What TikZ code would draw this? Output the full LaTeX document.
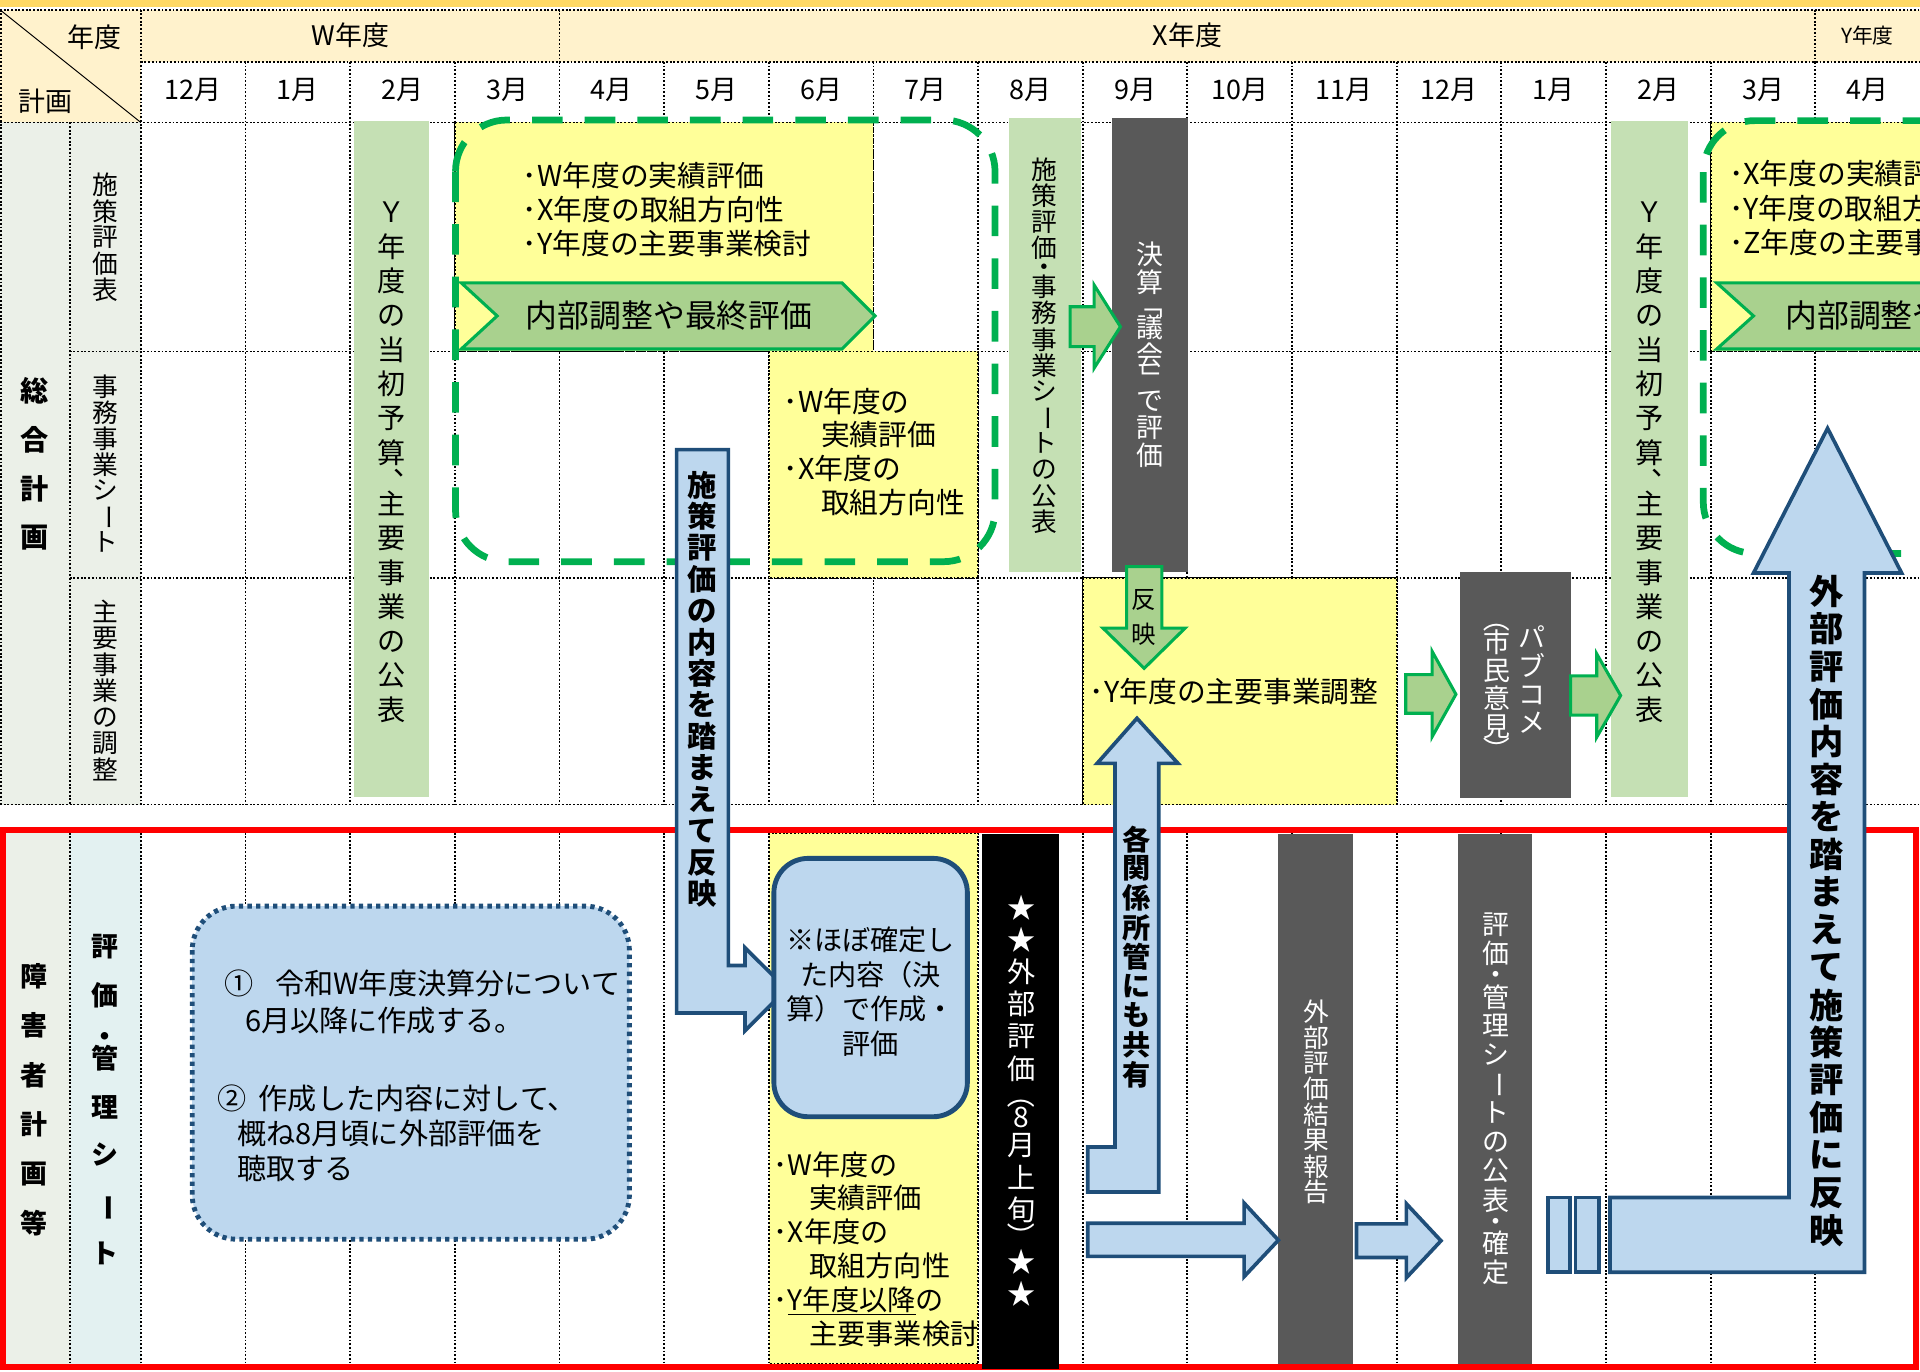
\documentclass[tikz,border=0pt]{standalone}
\usepackage{fontspec}
\usepackage{graphicx}
\setmainfont{Noto Sans CJK JP}
\definecolor{cGreen}{HTML}{00B050}
\definecolor{cBar}{HTML}{C5E0B4}
\definecolor{cChev}{HTML}{A9D18E}
\definecolor{cYel}{HTML}{FFFF99}
\definecolor{cGrey}{HTML}{595959}
\definecolor{cBlue}{HTML}{BDD7EE}
\definecolor{cNavy}{HTML}{1F4E79}
\definecolor{cHdr}{HTML}{FFF2CC}
\definecolor{cOrange}{HTML}{FFD966}
\definecolor{cColA}{HTML}{EBF0E8}
\definecolor{cColB}{HTML}{E3F1F1}
\definecolor{cRed}{HTML}{FF0000}
\makeatletter
\newlength\vtskip
\gdef\vt@fac{1}
\newcommand\vtext[2]{\vtskip=#1\relax\vbox{\offinterlineskip\@tfor\vt@c:=#2\do{\vt@item{\vt@c}}}}
\def\vt@item#1{\gdef\vt@fac{1}\setbox\z@\hbox to 1em{\hss\vphantom{国}#1\hss}\vbox to \vt@fac\vtskip{\vss\box\z@\vss}}
\newcommand\vh[1]{\gdef\vt@fac{0.5}#1}
\newcommand\vrot[2][1]{\gdef\vt@fac{#1}\rotatebox[origin=c]{-90}{#2}}
\newcommand\vcm{\gdef\vt@fac{0.5}\makebox[1em][l]{\kern0.55em\raisebox{0.45em}{\makebox[0pt][l]{、}}}}
\newcommand\vfac[2]{\gdef\vt@fac{#1}#2}
\newcommand\vch[1]{\hbox to 1em{\hss\vphantom{国}#1\hss}}
\newcommand\fsize[2]{\fontsize{#1}{#2}\selectfont}
\makeatother
\tikzset{
  grid/.style={line width=1.5pt,dash pattern=on 1.5pt off 1.5pt,draw=black},
  lbl/.style={inner sep=0pt,outer sep=0pt},
  ybox/.style={grid,fill=cYel},
  gbar/.style={fill=cBar},
  dbar/.style={fill=cGrey},
  gdash/.style={draw=cGreen,line width=5.5pt,dash pattern=on 25pt off 18pt,rounded corners=42pt},
  chev/.style={fill=cChev,draw=cGreen,line width=2.5pt,line join=miter},
  barrow/.style={fill=cBlue,draw=cNavy,line width=3pt,line join=miter},
  wtxt/.style={lbl,text=white},
  htxt/.style={lbl,align=left,anchor=west}
}
\begin{document}
\begin{tikzpicture}[x=1pt,y=-1pt]
\useasboundingbox (0,0) rectangle (1568,1119.7);
\clip (0,0) rectangle (1568,1119.7);

% ---------- backgrounds
\fill[cOrange] (0,0) rectangle (1568,5.5);
\fill[cHdr] (0,8) rectangle (1568,50.5);
\fill[cHdr] (0,50.5) rectangle (115,100);
\fill[cColA] (0,100) rectangle (115,657);
\fill[cColA] (0,680) rectangle (57,1114);
\fill[cColB] (57,680) rectangle (115,1114);

% ---------- grid
\draw[grid] (0,8) -- (1568,8);
\draw[grid] (115,50.5) -- (1568,50.5);
\draw[grid] (0,100) -- (1568,100);
\draw[grid] (57,287) -- (1568,287);
\draw[grid] (57,472) -- (1568,472);
\draw[grid] (0,657) -- (1568,657);
\draw[grid] (0.8,8) -- (0.8,657);
\draw[grid] (57,100) -- (57,657);
\draw[grid] (115,8) -- (115,657);
\foreach \k in {1,...,16} \draw[grid] ({115+85.47*\k},50.5) -- ({115+85.47*\k},657);
\draw[grid] (456.9,8) -- (456.9,50.5);
\draw[grid] (1482.5,8) -- (1482.5,50.5);
\draw[grid] (57,680) -- (57,1114);
\draw[grid] (115,680) -- (115,1114);
\foreach \k in {1,...,16} \draw[grid] ({115+85.47*\k},680) -- ({115+85.47*\k},1114);
\draw[line width=0.8pt] (0,8) -- (115,100);

% ---------- header texts
\node[lbl,font=\fsize{22}{22}] (hNendo) at (77,30) {年度};
\node[lbl,font=\fsize{22}{22}] (hKeikaku) at (37,83) {計画};
\node[lbl,font=\fsize{22}{22}] (yW) at (286,29) {W年度};
\node[lbl,font=\fsize{22}{22}] (yX) at (969.7,29) {X年度};
\node[lbl,font=\fsize{17}{17}] (yY) at (1525,29) {Y年度};
\foreach \m [count=\i from 0] in {12月,1月,2月,3月,4月,5月,6月,7月,8月,9月,10月,11月,12月,1月,2月,3月,4月}
  \node[lbl,font=\fsize{22}{22}] (m\i) at ({115+85.47*(\i+0.5)},73.5) {\m};

% ---------- row labels
\node[lbl,font=\fsize{23}{23}\bfseries] (sogo) at (28.6,379) {\vtext{40pt}{総合計画}};
\node[lbl,font=\fsize{21}{21}] (r1) at (85.7,194) {\vtext{21.5pt}{施策評価表}};
\node[lbl,font=\fsize{21}{21}] (r2) at (85.7,379.5) {\vtext{21.2pt}{事務事業シ{\vrot{ー}}ト}};
\node[lbl,font=\fsize{21}{21}] (r3) at (85.7,564) {\vtext{21.5pt}{主要事業の調整}};
\node[lbl,font=\fsize{22}{22}\bfseries] (shogai) at (27.4,898) {\vtext{40.4pt}{障害者計画等}};
\begin{scope}[every node/.style={lbl,font=\fsize{22}{22}\bfseries}]
\node (e1) at (85.7,773) {\vch{評}};
\node (e2) at (85.7,813) {\vch{価}};
\node (e3) at (85.7,847) {\vch{・}};
\node (e4) at (85.7,864) {\vch{管}};
\node (e5) at (85.7,905) {\vch{理}};
\node (e6) at (85.7,943) {\vch{シ}};
\node (e7) at (85.7,986) {\vch{\rotatebox[origin=c]{-90}{ー}}};
\node (e8) at (85.7,1024) {\vch{ト}};
\end{scope}

% ---------- yellow areas
\path[ybox] (371.4,100) rectangle (713.3,287);
\path[ybox] (627.8,287) rectangle (798.8,472);
\path[ybox] (884.2,472) rectangle (1140.6,657);
\path[ybox] (627.8,680) rectangle (798.8,1114);
\path[ybox] (1397.1,100) rectangle (1575,287);

% ---------- bars (top)
\path[gbar] (289,98.5) rectangle (350.4,651);
\path[gbar] (823.8,96.5) rectangle (882.5,466.9);
\path[dbar] (908,96.5) rectangle (970,467);
\path[gbar] (1316,98.5) rectangle (1378.5,651);
\path[dbar] (1192.3,467) rectangle (1282.6,652);
% bars (bottom)
\path[dbar] (1044,681) rectangle (1105,1114);
\path[dbar] (1190.7,681) rectangle (1251.5,1114);

% ---------- dashed frames and chevrons
\draw[gdash] (372,98) rectangle (812.6,458.7);
\draw[gdash] (1391,98.5) rectangle (1760,452);
\draw[chev] (376.7,231) -- (687.6,231) -- (714.6,258) -- (687.6,285) -- (376.7,285) -- (406,258) -- cycle;
\draw[chev] (1402,231) -- (1600,231) -- (1600,285) -- (1402,285) -- (1432,258) -- cycle;

% ---------- green arrows
\draw[chev] (874,250.5) -- (893.5,250.5) -- (893.5,232.7) -- (915,266.8) -- (893.5,300.7) -- (893.5,283) -- (874,283) -- cycle;
\draw[chev] (920,462.8) -- (948.8,462.8) -- (948.8,513) -- (967.8,513) -- (934.4,545.8) -- (900.8,513) -- (920,513) -- cycle;
\draw[chev] (1148,551) -- (1169.6,551) -- (1169.6,532) -- (1189,567) -- (1169.6,601.6) -- (1169.6,582.5) -- (1148,582.5) -- cycle;
\draw[chev] (1282.6,552) -- (1304,552) -- (1304,534) -- (1323.5,568) -- (1304,602) -- (1304,584) -- (1282.6,584) -- cycle;

% ---------- red frame
\draw[cRed,line width=5pt] (2.5,678) rectangle (1565,1116.5);
\path[fill=black] (802,681) rectangle (865,1118);

% ---------- blue block arrows
\draw[barrow] (552.6,367.2) -- (594.8,367.2) -- (594.8,788.5) -- (608.4,788.5) -- (608.4,774) -- (642.4,807.7) -- (608.4,841.7) -- (608.4,827.2) -- (552.6,827.2) -- cycle;
\draw[barrow] (946.3,623.4) -- (962,623.4) -- (928.5,586.6) -- (896,623.4) -- (910.5,623.4) -- (910.5,936.7) -- (888.3,936.7) -- (888.3,973.5) -- (946.3,973.5) -- cycle;
\draw[barrow] (888.3,999) -- (1016,999) -- (1016,982.5) -- (1044,1012.8) -- (1016,1042.6) -- (1016,1026) -- (888.3,1026) -- cycle;
\draw[barrow] (1107.8,999.5) -- (1148.5,999.5) -- (1148.5,983) -- (1176.8,1013.3) -- (1148.5,1043.5) -- (1148.5,1027) -- (1107.8,1027) -- cycle;
\draw[barrow] (1264,978) rectangle (1282,1039);
\draw[barrow] (1286.7,978) rectangle (1306,1039);
\draw[barrow] (1314.8,978) -- (1461,978) -- (1461,468) -- (1432,468) -- (1492.5,349.8) -- (1553,468) -- (1522.6,468) -- (1522.6,1039) -- (1314.8,1039) -- cycle;

% ---------- boxes
\draw[fill=cBlue,draw=cNavy,line width=4pt,rounded corners=28pt] (632,701) rectangle (790,912);
\draw[fill=cBlue,draw=cNavy,line width=4pt,dash pattern=on 3.5pt off 3.5pt,rounded corners=36pt] (157,740) rectangle (514,1012);

% ---------- vertical texts in bars and arrows
\node[lbl,font=\fsize{23}{23}] (bud1) at (320,376.5) {\vtext{28pt}{Ｙ年度の当初予算{\vcm}主要事業の公表}};
\node[lbl,font=\fsize{23}{23}] (bud2) at (1347.3,376.5) {\vtext{28pt}{Ｙ年度の当初予算{\vcm}主要事業の公表}};
\node[lbl,font=\fsize{21}{21}] (pub1) at (853,282.4) {\vtext{21.3pt}{施策評価{\vh{・}}事務事業シ{\vrot{ー}}トの公表}};
\node[wtxt,font=\fsize{22}{22}] (gikai) at (939.5,290) {\vtext{22.5pt}{決算{\vrot[.65]{「}}議会{\vrot[.65]{」}}で評価}};
\node[lbl,font=\fsize{20}{20}] (hanei) at (934.4,504) {\vtext{28.6pt}{反映}};
\node[wtxt,font=\fsize{22}{22}] (pabu) at (1251,555.6) {\vtext{23pt}{パブコメ}};
\node[wtxt,font=\fsize{22}{22}] (shimin) at (1222.5,559) {\vtext{22.8pt}{{\vrot[.67]{（}}市民意見{\vrot[.67]{）}}}};
\node[wtxt,font=\fsize{23}{23}] (gaibu) at (834,899) {\vtext{26.3pt}{★★外部評価{\vrot[.6]{（}}{\vfac{.8}{8}}月上旬{\vrot[.6]{）}}★★}};
\node[wtxt,font=\fsize{21}{21}] (kekka) at (1075,900) {\vtext{21pt}{外部評価結果報告}};
\node[wtxt,font=\fsize{22}{22}] (kakutei) at (1221.3,897) {\vtext{23.7pt}{評価{\vh{・}}管理シ{\vrot{ー}}トの公表{\vh{・}}確定}};
\node[lbl,font=\fsize{24}{24}\bfseries] (fumae1) at (573.7,563) {\vtext{25.7pt}{施策評価の内容を踏まえて反映}};
\node[lbl,font=\fsize{23}{23}\bfseries] (kyoyu) at (928.5,781.5) {\vtext{24pt}{各関係所管にも共有}};
\node[lbl,font=\fsize{28}{28}\bfseries] (fumae2) at (1492,744) {\vtext{30.7pt}{外部評価内容を踏まえて施策評価に反映}};

% ---------- horizontal texts
\node[htxt,font=\fsize{23.5}{28}] (t1) at (427,171) {･W年度の実績評価\\･X年度の取組方向性\\･Y年度の主要事業検討};
\node[lbl,font=\fsize{26}{26}] (c1) at (546.5,258) {内部調整や最終評価};
\node[htxt,font=\fsize{23.5}{27.5}] (t2) at (640,369) {･W年度の\\\hspace*{1.3em}実績評価\\･X年度の\\\hspace*{1.3em}取組方向性};
\node[htxt,font=\fsize{23.5}{28}] (t3) at (890,565) {･Y年度の主要事業調整};
\node[htxt,font=\fsize{23.5}{28}] (t4) at (1412,170) {･X年度の実績評価\\･Y年度の取組方向性\\･Z年度の主要事業検討};
\node[htxt,font=\fsize{26}{26}] (c2) at (1458,258) {内部調整や最終評価};
\node[htxt,font=\fsize{23}{27.6}] (t5) at (632,1020) {･W年度の\\\hspace*{1.26em}実績評価\\･X年度の\\\hspace*{1.26em}取組方向性\\･\underline{Y年度以降}の\\\hspace*{1.26em}主要事業検討};
\node[lbl,font=\fsize{23}{28.3},align=center] (t6) at (711,810) {※ほぼ確定し\\た内容（決\\算）で作成・\\評価};
\node[htxt,font=\fsize{23.8}{30}] (t7) at (183,818) {①\hspace{0.75em}令和W年度決算分について\\\hspace*{0.72em}6月以降に作成する。};
\node[htxt,font=\fsize{23.8}{28.5}] (t8) at (178,925.5) {②\hspace{0.4em}作成した内容に対して、\\\hspace*{0.66em}概ね8月頃に外部評価を\\\hspace*{0.66em}聴取する};
\end{tikzpicture}
\end{document}
